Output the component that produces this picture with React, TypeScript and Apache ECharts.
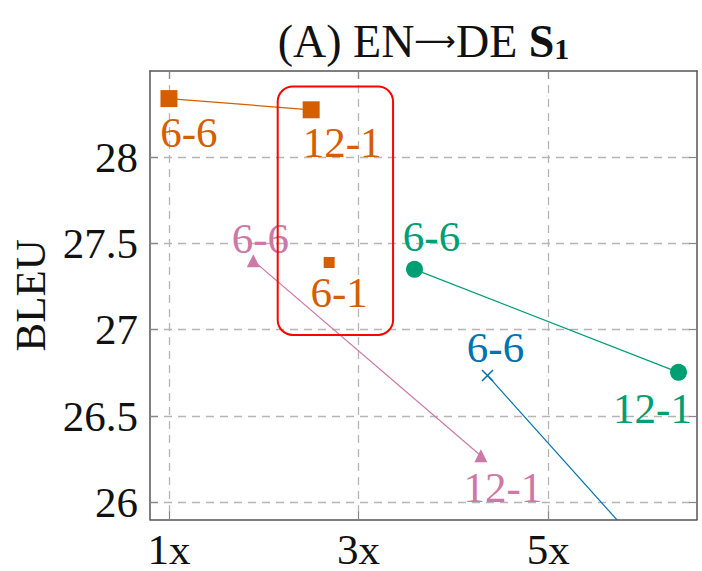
import React, { useEffect, useRef } from 'react';
import * as echarts from 'echarts';

// ---- data ----
const xTicks = [1, 3, 5];
const xTickLabels = ['1x', '3x', '5x'];
const yTicks = [26, 26.5, 27, 27.5, 28];
const xRange = [0.8, 6.57];
const yRange = [25.9, 28.5];

const orangeLine = [[1, 28.34], [2.5, 28.275]];
const orangeLabels = ['6-6', '12-1'];
const orangeSingle = [[2.69, 27.39]];
const orangeSingleLabels = ['6-1'];
const pinkLine = [[1.89, 27.4], [4.29, 26.27]];
const pinkLabels = ['6-6', '12-1'];
const greenLine = [[3.59, 27.35], [6.375, 26.753]];
const greenLabels = ['6-6', '12-1'];
const blueLine = [[4.36, 26.735], [6.0, 25.73]];
const blueLabels = ['6-6', ''];
const highlightBox = [[2.147, 28.41], [3.364, 26.97]];

// ---- styling ----
const FONT = '"Liberation Serif", "DejaVu Serif", serif';
const ORANGE = '#D55E00';
const PINK = '#CC79A7';
const GREEN = '#009E73';
const BLUE = '#0072B2';
const FS = 43;

const offsets = {
  orange: [[20, 34], [31, 33]],
  orangeSingle: [[10, 30]],
  pink: [[7, -22], [22, 32]],
  green: [[17, -33], [-26, 36]],
  blue: [[8, -28], [0, 0]],
};

const GRID = { left: 150, top: 71, right: 5, bottom: 46 };
const W = 702;
const H = 571;

function mkSeries(
  name: string,
  data: number[][],
  labels: string[],
  color: string,
  symbol: string,
  size: number,
  offs: number[][],
  showLine = true,
  extraItem: any = {}
) {
  return {
    type: 'line',
    name,
    data: data.map((d, i) => ({
      value: d,
      label: {
        show: !!labels[i],
        formatter: labels[i] || '',
        position: 'inside',
        offset: offs[i] || [0, 0],
        color,
        fontSize: FS,
        fontFamily: FONT,
      },
    })),
    symbol,
    symbolSize: size,
    showSymbol: true,
    lineStyle: { color, width: showLine ? 1.2 : 0, opacity: showLine ? 1 : 0 },
    itemStyle: { color, ...extraItem },
    clip: true,
    z: 3,
  };
}

export default function App() {
  const ref = useRef<HTMLDivElement>(null);

  useEffect(() => {
    if (!ref.current) return;
    const chart = echarts.init(ref.current, undefined, { renderer: 'svg' });

    const axisLine = { show: true, lineStyle: { color: '#555', width: 1.5 } };
    const tick = { show: true, inside: true, length: 8, lineStyle: { color: '#888', width: 1.2 } };
    const split = { show: true, lineStyle: { color: '#b5b5b5', width: 1.3, type: [8, 6] } };

    const option: any = {
      animation: false,
      grid: { ...GRID, containLabel: false },
      xAxis: [
        {
          type: 'value',
          min: xRange[0],
          max: xRange[1],
          position: 'bottom',
          axisLine,
          axisTick: { ...tick, customValues: xTicks },
          splitLine: split,
          axisLabel: {
            customValues: xTicks,
            formatter: (v: number) => xTickLabels[xTicks.indexOf(v)] ?? '',
            fontSize: FS,
            fontFamily: FONT,
            color: '#111',
            lineHeight: 26,
            margin: 17,
          },
        },
        {
          type: 'value',
          min: xRange[0],
          max: xRange[1],
          position: 'top',
          axisLine,
          axisTick: { ...tick, customValues: xTicks },
          splitLine: { show: false },
          axisLabel: { show: false },
        },
      ],
      yAxis: [
        {
          type: 'value',
          min: yRange[0],
          max: yRange[1],
          position: 'left',
          name: 'BLEU',
          nameLocation: 'middle',
          nameGap: 93,
          nameTextStyle: { fontSize: FS, fontFamily: FONT, color: '#111' },
          axisLine,
          axisTick: { ...tick, customValues: yTicks },
          splitLine: split,
          axisLabel: {
            customValues: yTicks,
            formatter: (v: number) => String(v),
            fontSize: FS,
            fontFamily: FONT,
            color: '#111',
            margin: 12,
          },
        },
        {
          type: 'value',
          min: yRange[0],
          max: yRange[1],
          position: 'right',
          axisLine,
          axisTick: { ...tick, customValues: yTicks },
          splitLine: { show: false },
          axisLabel: { show: false },
        },
      ],
      series: [
        mkSeries('orange', orangeLine, orangeLabels, ORANGE, 'rect', 17, offsets.orange),
        mkSeries('orange61', orangeSingle, orangeSingleLabels, ORANGE, 'rect', 11, offsets.orangeSingle, false),
        mkSeries('pink', pinkLine, pinkLabels, PINK, 'triangle', 13, offsets.pink),
        mkSeries('green', greenLine, greenLabels, GREEN, 'circle', 17, offsets.green),
        mkSeries('blue', blueLine, blueLabels, BLUE, 'path://M0 0L10 10M10 0L0 10', 11, offsets.blue, true, {
          borderColor: BLUE,
          borderWidth: 1.5,
        }),
      ],
    };

    chart.setOption(option);

    const p1 = chart.convertToPixel({ gridIndex: 0 }, highlightBox[0]) as number[];
    const p2 = chart.convertToPixel({ gridIndex: 0 }, highlightBox[1]) as number[];
    const cx = (GRID.left + (W - GRID.right)) / 2;

    chart.setOption({
      graphic: [
        {
          type: 'rect',
          shape: {
            x: Math.min(p1[0], p2[0]),
            y: Math.min(p1[1], p2[1]),
            width: Math.abs(p2[0] - p1[0]),
            height: Math.abs(p2[1] - p1[1]),
            r: 15,
          },
          style: { fill: 'none', stroke: '#ff0000', lineWidth: 2 },
          z: 10,
        },
        {
          type: 'text',
          x: cx,
          y: 19,
          style: {
            text: '(A) EN{a|\u27F6}DE {b|S}{s|1}',
            fontSize: 46,
            fontFamily: FONT,
            fill: '#111',
            align: 'center',
            verticalAlign: 'top',
            lineHeight: 44,
            rich: {
              a: { fontSize: 29, fontFamily: '"DejaVu Sans", sans-serif', fill: '#111', lineHeight: 44 },
              b: { fontSize: 46, fontFamily: FONT, fontWeight: 'bold', fill: '#111', lineHeight: 44 },
              s: {
                fontSize: 30,
                fontFamily: FONT,
                fontWeight: 'bold',
                fill: '#111',
                lineHeight: 27,
                verticalAlign: 'bottom',
              },
            },
          },
          z: 10,
        },
      ],
    });

    return () => chart.dispose();
  }, []);

  return (
    <div
      ref={ref}
      style={{ position: 'fixed', left: 0, top: 0, width: W, height: H, background: '#fff' }}
    />
  );
}
